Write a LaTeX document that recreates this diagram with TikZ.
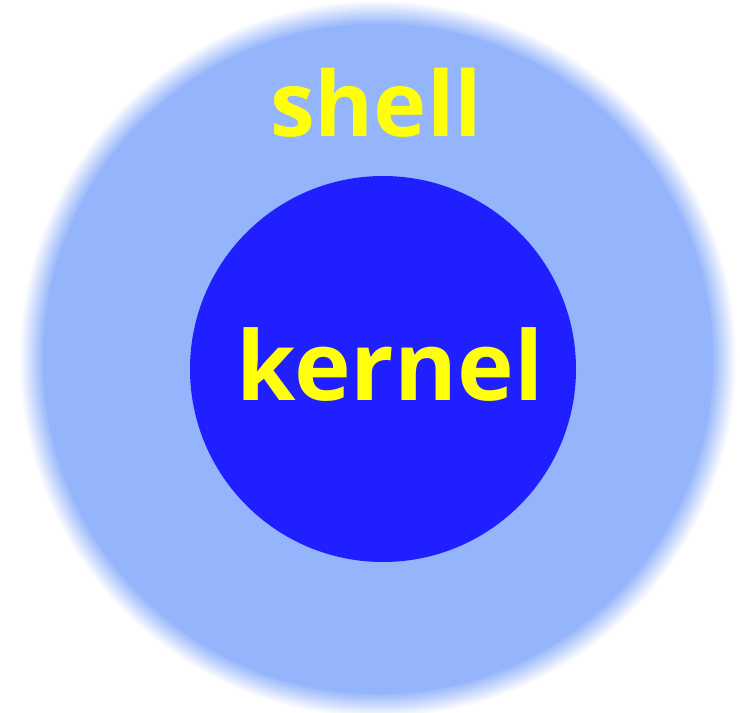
\documentclass[tikz,border=0pt]{standalone}
\usepackage{fontspec}
\setmainfont{Open Sans}
\definecolor{shellblue}{RGB}{148,180,251}
\definecolor{kernelblue}{RGB}{31,31,255}
\definecolor{labelyellow}{RGB}{255,255,10}
\tikzset{
  labeltext/.style={text=labelyellow, font=\bfseries, inner sep=0pt, anchor=base},
}
\begin{document}
\begin{tikzpicture}[x=1pt,y=-1pt]
  \fill[white] (0,0) rectangle (740,713);
  \useasboundingbox (0,0) rectangle (740,713);
  % blurred shell disc
  \foreach \i in {0,...,24}{
    \pgfmathsetmacro{\rr}{359-\i}
    \pgfmathsetmacro{\pc}{\i*4}
    \fill[shellblue!\pc!white] (378,359) circle (\rr);
  }
  \fill[shellblue] (378,359) circle (335);
  % kernel disc
  \fill[kernelblue] (383,369) circle (193);
  \node[labeltext, font=\fontsize{90}{90}\selectfont\bfseries] (shell) at (376,136) {shell};
  \node[labeltext, font=\fontsize{96}{96}\selectfont\bfseries] (kernel) at (390,400) {kernel};
\end{tikzpicture}
\end{document}
